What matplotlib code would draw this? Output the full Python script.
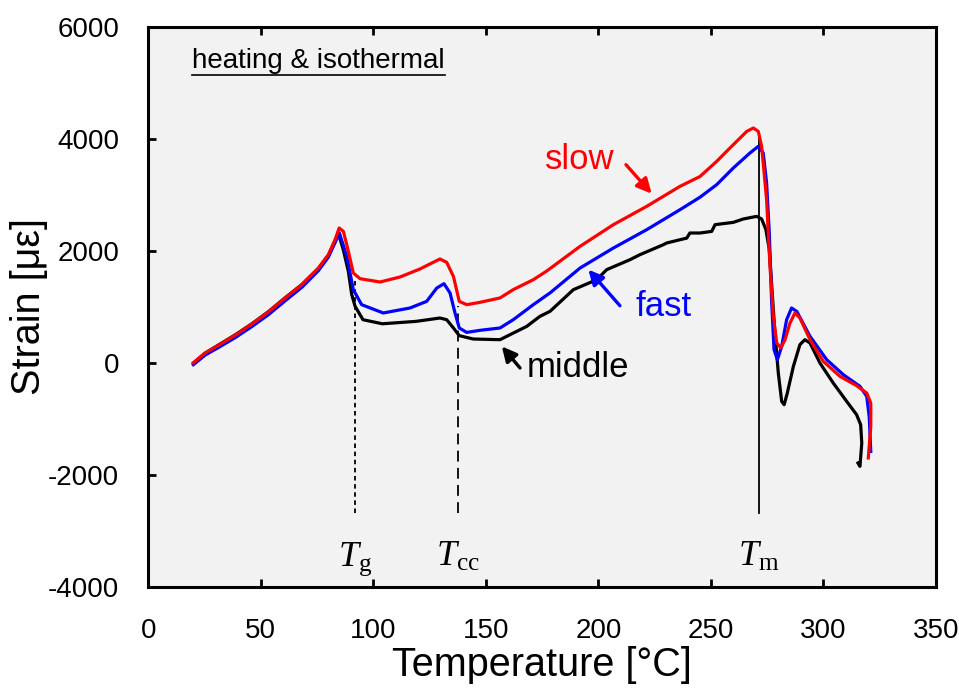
import matplotlib
matplotlib.use('Agg')
import matplotlib.pyplot as plt

plt.rcParams['font.family'] = ['Liberation Sans', 'DejaVu Sans']
plt.rcParams['mathtext.fontset'] = 'custom'
plt.rcParams['mathtext.rm'] = 'Liberation Serif'
plt.rcParams['mathtext.it'] = 'Liberation Serif:italic'
plt.rcParams['axes.unicode_minus'] = False

# slow (red)
x_slow = [20, 25.2, 31.1, 38.5, 46, 53.3, 60.8, 68.2, 75.6, 80, 83, 84.8, 86.7, 88.9, 91.1, 94.1,
          103, 111.9, 120.7, 129.6, 132.6, 135.6, 138.2, 141.5, 147.4, 156.3, 162.2, 171.1, 177,
          191.9, 206.7, 221.5, 236.3, 245.2, 252.6, 260, 266, 268.9, 271.1, 272.6, 274.8, 276.3,
          277.8, 279.3, 281.1, 283, 285.2, 287.4, 289.6, 294.1, 300, 307.4, 314.8, 319.3, 321.1,
          321.1, 320]
y_slow = [0, 178, 315, 493, 696, 910, 1161, 1398, 1696, 1934, 2202, 2410, 2350, 1993, 1607, 1505,
          1446, 1536, 1678, 1857, 1797, 1546, 1100, 1041, 1083, 1161, 1310, 1487, 1640,
          2083, 2470, 2797, 3154, 3330, 3600, 3898, 4136, 4196, 4136, 3868, 2916, 1725,
          832, 357, 268, 416, 714, 893, 804, 416, 29, -239, -405, -536, -714,
          -1132, -1696]

# fast (blue)
x_fast = [20, 25.2, 31.1, 38.5, 46, 53.3, 60.8, 68.2, 75.6, 80, 83, 84.9, 88.2, 91.1, 94.8, 104.4,
          116.3, 123.7, 128.2, 131.4, 134.1, 136.3, 138.2, 141.5, 147.4, 156.3, 162.2, 171.1, 178.5,
          191.9, 206.7, 221.5, 236.3, 245.2, 252.6, 260, 267.4, 271.1, 273.3, 274.8, 276, 277,
          278.1, 279.6, 281.5, 283.7, 285.9, 288.2, 294.1, 301.5, 308.9, 316.3, 319.3, 320.4, 321.1]
y_fast = [-30, 140, 275, 450, 650, 860, 1110, 1350, 1650, 1890, 2150, 2321, 1904, 1309, 1041, 893,
          982, 1100, 1339, 1416, 1250, 893, 625, 546, 583, 625, 773, 1041, 1250,
          1696, 2053, 2380, 2737, 2960, 3184, 3482, 3750, 3868, 3750, 3214, 2321, 1130,
          238, 59, 296, 773, 982, 921, 475, 59, -209, -418, -596, -954, -1579]

# middle (black)
x_mid = [20, 25.2, 31.1, 38.5, 46, 53.3, 60.8, 68.2, 75.6, 80, 83, 84.4, 86.6, 88.9, 90.4, 91.9,
         95.4, 104, 119, 129.6, 132.6, 135.6, 138.2, 144.4, 156.3, 168.2, 174, 178.5, 188.9,
         199.3, 203.7, 214.1, 218.5, 228.9, 230.4, 239.3, 240.7, 245.2, 250.4, 251.9, 260,
         264.4, 270.4, 272.6, 274.5, 276, 277, 278.5, 280, 281.5, 282.6, 284, 286.7, 289.6,
         291.8, 294.1, 298.5, 304.4, 310.4, 314.8, 316.6, 317.1, 316.3, 315.4]
y_mid = [0, 175, 320, 500, 700, 915, 1165, 1400, 1690, 1920, 2180, 2321, 2030, 1636, 1220, 1011,
         773, 700, 743, 803, 773, 625, 488, 428, 416, 654, 832, 921, 1309,
         1487, 1666, 1845, 1934, 2112, 2143, 2230, 2321, 2321, 2350, 2470, 2511,
         2571, 2618, 2571, 2380, 2023, 1428, 536, -179, -686, -745, -536, -61, 327,
         416, 357, 0, -357, -686, -923, -1102, -1429, -1846, -1786]

# transition temperatures
t_names = [r'$T_{\rm g}$', r'$T_{\rm cc}$', r'$T_{\rm m}$']
t_temps = [91.9, 137.5, 271.4]
t_tops = [1490, 1010, 4030]
t_styles = [(0, (2.5, 2)), (0, (6, 3.5)), '-']
line_bottom = -2670

fig = plt.figure(figsize=(9.59, 6.9), dpi=100)
ax = fig.add_axes([0.1547, 0.1493, 0.8211, 0.8116])
ax.set_facecolor('#f2f2f2')

for x, top, ls in zip(t_temps, t_tops, t_styles):
    ax.plot([x, x], [line_bottom, top], color='black', lw=1.3, linestyle=ls, zorder=1)

ax.plot(x_mid, y_mid, color='black', lw=2.3, zorder=2)
ax.plot(x_fast, y_fast, color='#0000ff', lw=2.3, zorder=3)
ax.plot(x_slow, y_slow, color='#ff0000', lw=2.3, zorder=4)

for name, x in zip(t_names, t_temps):
    ax.text(x, -3630, name, ha='center', va='baseline', fontsize=26)

# labels with arrows
arrow_kw = dict(arrowstyle='-|>', lw=2.4, mutation_scale=22, shrinkA=0, shrinkB=0)
ax.annotate('', xy=(223.7, 3023), xytext=(212.3, 3541),
            arrowprops=dict(color='#ff0000', **arrow_kw))
ax.text(191.9, 3630, 'slow', color='#ff0000', fontsize=25, ha='center', va='center')
ax.annotate('', xy=(195.6, 1666), xytext=(209.6, 1023),
            arrowprops=dict(color='#0000ff', **arrow_kw))
ax.text(228.8, 1011, 'fast', color='#0000ff', fontsize=25, ha='center', va='center')
ax.annotate('', xy=(157.1, 296), xytext=(165.2, -89),
            arrowprops=dict(color='black', **arrow_kw))
ax.text(191, -84, 'middle', color='black', fontsize=25, ha='center', va='center')

# underlined heading
head = ax.text(0.0559, 0.927, 'heating & isothermal', transform=ax.transAxes,
               fontsize=20, ha='left', va='baseline')
fig.canvas.draw()
bb = head.get_window_extent().transformed(ax.transAxes.inverted())
ax.plot([bb.x0, bb.x1], [0.915, 0.915], transform=ax.transAxes, color='black', lw=1.2)

ax.set_xlim(0, 350)
ax.set_ylim(-4000, 6000)
ax.set_xticks(range(0, 351, 50))
ax.set_yticks(range(-4000, 6001, 2000))
ax.tick_params(axis='both', direction='in', length=6, width=2, labelsize=20)
ax.tick_params(axis='x', top=True, pad=22)
ax.tick_params(axis='y', pad=21)
for s in ax.spines.values():
    s.set_linewidth(2.2)

ax.set_xlabel('Temperature [°C]', fontsize=28.5, labelpad=2)
ax.set_ylabel('Strain [με]', fontsize=28.5, labelpad=0)

fig.savefig('out.png', dpi=100)
